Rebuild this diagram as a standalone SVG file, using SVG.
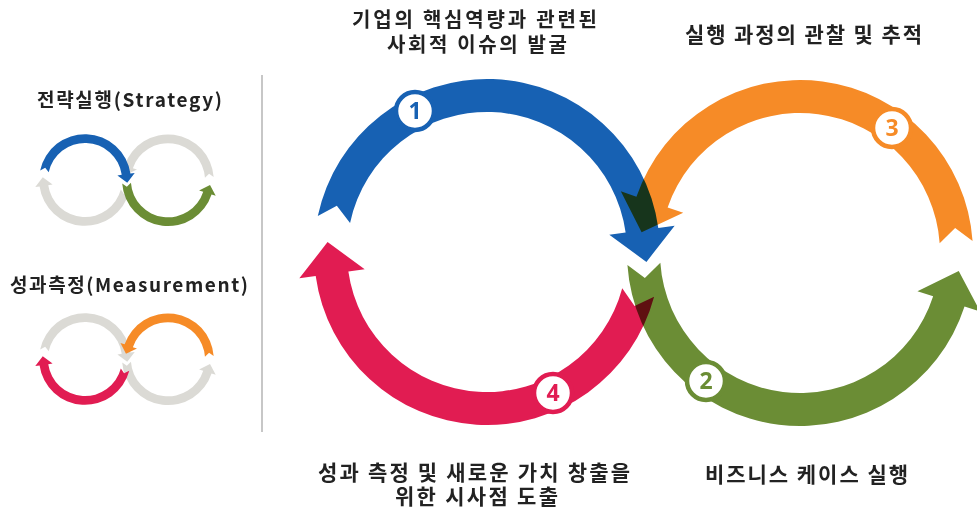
<svg xmlns="http://www.w3.org/2000/svg" xmlns:xlink="http://www.w3.org/1999/xlink" width="977" height="512" viewBox="0 0 977 512">
<style>
.lbl{font-family:"Noto Sans CJK KR","Liberation Sans",sans-serif;font-weight:700;fill:#222;text-anchor:middle}
.num{font-family:"Open Sans","Liberation Sans",sans-serif;font-weight:700;font-size:23px;text-anchor:middle}
.mb{mix-blend-mode:multiply}
.blue{fill:#1761b3}.orange{fill:#f68b27}.green{fill:#6b8d35}.pink{fill:#e11c52}.grey{fill:#dbdad5}
.badge{fill:#fff;stroke-width:4.5}
</style>
<defs>
<path id="p1" d="M317.78,216.03 A173,173 0 0 1 658.32,227.92 L674.66,225.63 L646.43,261.91 L609.30,234.81 L625.64,232.52 A140,140 0 0 0 350.06,222.89 L336.83,205.77 Z"/>
<path id="p4" d="M654.10,296.78 A173,173 0 0 1 315.68,276.08 L299.34,278.37 L327.57,242.09 L364.70,269.19 L348.36,271.48 A140,140 0 0 0 622.23,288.23 L634.55,306.03 Z"/>
<path id="p3" d="M972.58,240.93 A173,173 0 0 0 636.43,196.68 L620.82,191.30 L641.61,232.31 L683.23,212.79 L667.63,207.42 A140,140 0 0 1 939.66,243.23 L955.14,228.12 Z"/>
<path id="p2" d="M627.42,265.07 A173,173 0 0 0 964.53,306.46 L980.23,311.56 L958.73,270.93 L917.46,291.16 L933.15,296.26 A140,140 0 0 1 660.34,262.77 L644.86,277.89 Z"/>
</defs>
<rect width="977" height="512" fill="#fff"/>

<g id="legend-strategy">
<text class="lbl" x="129.5" y="107" font-size="19" textLength="185">전략실행(Strategy)</text>
<g transform="translate(85,180) scale(0.265) translate(-487,-252)">
<use xlink:href="#p3" class="grey"/>
<use xlink:href="#p4" class="grey"/>
<use xlink:href="#p1" class="blue"/>
<use xlink:href="#p2" class="green"/>
</g>
</g>

<g id="legend-measurement">
<text class="lbl" x="129" y="292" font-size="19" textLength="238">성과측정(Measurement)</text>
<g transform="translate(85,359) scale(0.265) translate(-487,-252)">
<use xlink:href="#p1" class="grey"/>
<use xlink:href="#p2" class="grey"/>
<use xlink:href="#p3" class="orange"/>
<use xlink:href="#p4" class="pink"/>
</g>
</g>

<g id="separator">
<line x1="262" y1="75" x2="262" y2="432" stroke="#b5b5b5" stroke-width="1.5"/>
</g>

<g id="connectors">
<g id="arrow-1"><use xlink:href="#p1" class="blue mb"/></g>
<g id="arrow-2"><use xlink:href="#p2" class="green mb"/></g>
<g id="arrow-3"><use xlink:href="#p3" class="orange mb"/></g>
<g id="arrow-4"><use xlink:href="#p4" class="pink mb"/></g>
</g>

<g id="step-1">
<circle class="badge" cx="415" cy="111" r="19" stroke="#1761b3"/>
<text class="num" x="415" y="119" fill="#1761b3">1</text>
<text class="lbl" font-size="20"><tspan x="474.5" y="27" textLength="245">기업의 핵심역량과 관련된</tspan><tspan x="477" y="52" textLength="180">사회적 이슈의 발굴</tspan></text>
</g>

<g id="step-2">
<circle class="badge" cx="706" cy="381" r="19" stroke="#6b8d35"/>
<text class="num" x="706" y="389" fill="#6b8d35">2</text>
<text class="lbl" x="806.5" y="482" font-size="21" textLength="203">비즈니스 케이스 실행</text>
</g>

<g id="step-3">
<circle class="badge" cx="892" cy="128" r="19" stroke="#f68b27"/>
<text class="num" x="892" y="136" fill="#f68b27">3</text>
<text class="lbl" x="803.5" y="42" font-size="21" textLength="237">실행 과정의 관찰 및 추적</text>
</g>

<g id="step-4">
<circle class="badge" cx="553" cy="393" r="19" stroke="#e11c52"/>
<text class="num" x="553" y="401" fill="#e11c52">4</text>
<text class="lbl" font-size="21"><tspan x="474" y="480" textLength="312">성과 측정 및 새로운 가치 창출을</tspan><tspan x="476.5" y="504" textLength="163">위한 시사점 도출</tspan></text>
</g>
</svg>
